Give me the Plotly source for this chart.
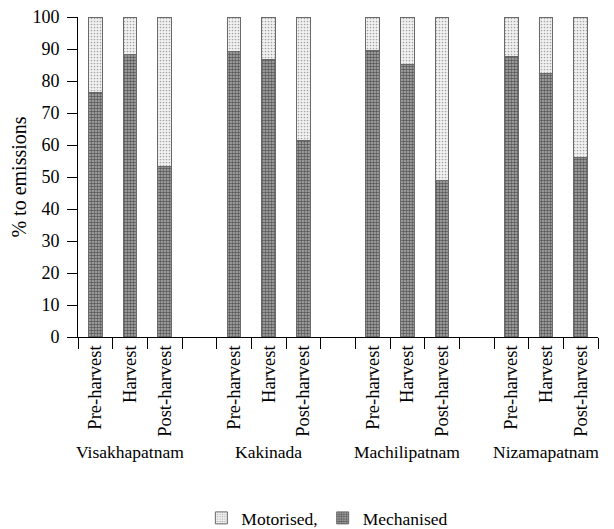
import plotly.graph_objects as go

ports = ["Visakhapatnam", "Kakinada", "Machilipatnam", "Nizamapatnam"]
stages = ["Pre-harvest", "Harvest", "Post-harvest"]
mechanised = {
    "Visakhapatnam": [76.5, 88.2, 53.2],
    "Kakinada": [89.3, 86.6, 61.3],
    "Machilipatnam": [89.5, 85.2, 48.8],
    "Nizamapatnam": [87.6, 82.3, 56.2],
}

# build slot categories: 3 stages per port, one empty slot between ports
cats, labels, mech, moto = [], [], [], []
for pi, port in enumerate(ports):
    for si, st in enumerate(stages):
        cats.append(f"{port}|{st}")
        labels.append(st)
        m = mechanised[port][si]
        mech.append(m)
        moto.append(100 - m)
    if pi < len(ports) - 1:
        cats.append(f"gap{pi}")
        labels.append("")
        mech.append(None)
        moto.append(None)

FF = "Liberation Serif, Times New Roman, serif"
W, H = 606, 521  # page body has an 8px margin

fig = go.Figure()
fig.add_trace(go.Bar(
    x=cats, y=mech, name="Mechanised", width=0.4,
    marker=dict(color="white", line=dict(color="#6a6a6a", width=1),
                pattern=dict(shape=".", fgcolor="black", bgcolor="#b0b0b0",
                             size=3, solidity=0.55)),
))
fig.add_trace(go.Bar(
    x=cats, y=moto, name="Motorised,", width=0.4,
    marker=dict(color="white", line=dict(color="#6a6a6a", width=1),
                pattern=dict(shape=".", fgcolor="#555555", bgcolor="#f2f2f2",
                             size=3, solidity=0.25)),
))

for port in ports:
    fig.add_annotation(x=f"{port}|Harvest", y=(337 - 452) / 320, xref="x", yref="paper",
                       text=port, showarrow=False, yanchor="middle",
                       font=dict(family=FF, size=17.5, color="black"))

fig.update_layout(
    barmode="stack",
    width=W, height=H,
    margin=dict(l=70, r=16, t=9, b=192, autoexpand=False),
    plot_bgcolor="white", paper_bgcolor="white",
    font=dict(family=FF, size=18, color="black"),
    showlegend=True,
    legend=dict(orientation="h", x=0.527, xanchor="center", xref="container",
                y=1 - 510 / H, yref="container",
                yanchor="middle", traceorder="reversed",
                font=dict(family=FF, size=17.5, color="black"),
                itemwidth=30, tracegroupgap=0),
    xaxis=dict(
        type="category", categoryorder="array", categoryarray=cats,
        tickmode="array", tickvals=cats, ticktext=labels,
        tickson="boundaries", ticks="outside", ticklen=11,
        tickcolor="black", tickangle=-90,
        showline=True, linecolor="black", linewidth=1,
        range=[-0.5, len(cats) - 0.5], showgrid=False,
        tickfont=dict(family=FF, size=18.5, color="black"),
    ),
    yaxis=dict(
        range=[0, 100], dtick=10, ticks="outside", ticklen=10,
        tickcolor="black", showline=True, linecolor="black", linewidth=1,
        showgrid=False, zeroline=False, ticklabeloverflow="allow",
        ticklabelstandoff=4,
        title=dict(text="% to emissions", font=dict(family=FF, size=20, color="black"),
                   standoff=7),
        tickfont=dict(family=FF, size=18, color="black"),
    ),
)

fig.write_html("out.html")
